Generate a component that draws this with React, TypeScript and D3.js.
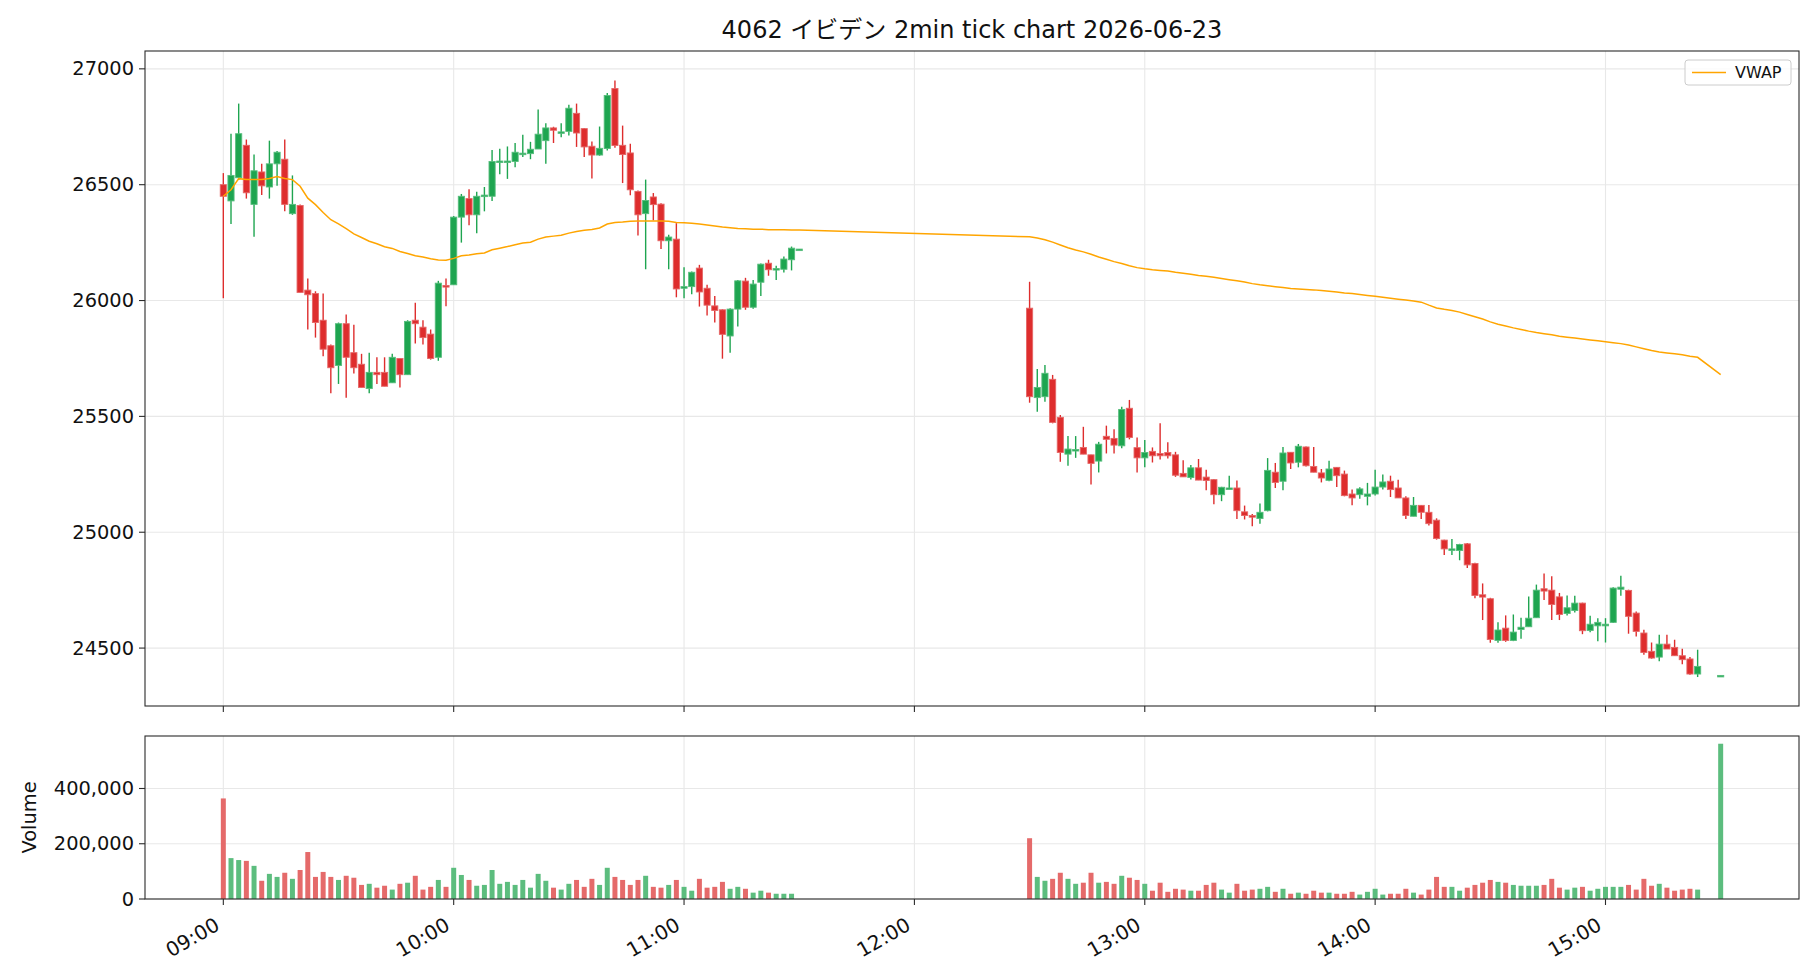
import * as d3 from "d3"

const FONT = "'DejaVu Sans', 'Noto Sans CJK JP', sans-serif"

// morning session, 2-minute bars
const amTimes = [
  "09:00", "09:02", "09:04", "09:06", "09:08", "09:10", "09:12", "09:14", "09:16", "09:18",
  "09:20", "09:22", "09:24", "09:26", "09:28", "09:30", "09:32", "09:34", "09:36", "09:38",
  "09:40", "09:42", "09:44", "09:46", "09:48", "09:50", "09:52", "09:54", "09:56", "09:58",
  "10:00", "10:02", "10:04", "10:06", "10:08", "10:10", "10:12", "10:14", "10:16", "10:18",
  "10:20", "10:22", "10:24", "10:26", "10:28", "10:30", "10:32", "10:34", "10:36", "10:38",
  "10:40", "10:42", "10:44", "10:46", "10:48", "10:50", "10:52", "10:54", "10:56", "10:58",
  "11:00", "11:02", "11:04", "11:06", "11:08", "11:10", "11:12", "11:14", "11:16", "11:18",
  "11:20", "11:22", "11:24", "11:26", "11:28", "11:30",
]
const amOpen = [
  26500, 26430, 26530, 26670, 26415, 26555, 26490, 26590, 26610, 26375,
  26410, 26045, 26030, 25915, 25805, 25720, 25900, 25775, 25725, 25620,
  25690, 25690, 25645, 25750, 25680, 25915, 25885, 25855, 25755, 26065,
  26068, 26360, 26440, 26370, 26450, 26450, 26598, 26598, 26600, 26632,
  26634, 26654, 26690, 26745, 26724, 26730, 26808, 26742, 26666, 26628,
  26656, 26915, 26670, 26637, 26471, 26375, 26447, 26416, 26258, 26265,
  26053, 26060, 26140, 26053, 25977, 25960, 25847, 25963, 26084, 25971,
  26079, 26161, 26133, 26135, 26176, 26220,
]
const amHigh = [
  26550, 26720, 26850, 26695, 26630, 26590, 26690, 26645, 26695, 26540,
  26415, 26095, 26040, 26030, 25810, 25905, 25940, 25895, 25770, 25775,
  25755, 25755, 25770, 25750, 25915, 25990, 25915, 25875, 26085, 26095,
  26365, 26460, 26480, 26470, 26490, 26650, 26655, 26665, 26680, 26715,
  26685, 26825, 26765, 26750, 26765, 26845, 26850, 26745, 26686, 26751,
  26896, 26950, 26755, 26677, 26475, 26522, 26464, 26420, 26284, 26334,
  26144, 26125, 26154, 26068, 26020, 25962, 25967, 26089, 26098, 26089,
  26160, 26176, 26150, 26190, 26233, 26222,
]
const amLow = [
  26010, 26330, 26520, 26440, 26275, 26455, 26440, 26495, 26385, 26370,
  26035, 25875, 25840, 25760, 25600, 25640, 25580, 25685, 25625, 25600,
  25640, 25630, 25645, 25625, 25680, 25815, 25810, 25745, 25740, 25975,
  26068, 26250, 26325, 26290, 26385, 26430, 26545, 26525, 26575, 26620,
  26610, 26654, 26590, 26680, 26705, 26712, 26663, 26620, 26527, 26625,
  26648, 26659, 26507, 26454, 26281, 26135, 26346, 26222, 26135, 26014,
  26010, 26027, 25974, 25935, 25905, 25749, 25775, 25888, 25960, 25965,
  26020, 26107, 26089, 26121, 26130, 26218,
]
const amClose = [
  26450, 26540, 26720, 26465, 26560, 26495, 26590, 26640, 26415, 26415,
  26035, 26025, 25905, 25790, 25710, 25900, 25755, 25710, 25625, 25690,
  25680, 25630, 25755, 25680, 25910, 25900, 25840, 25750, 26075, 26058,
  26360, 26450, 26370, 26450, 26455, 26600, 26602, 26602, 26640, 26636,
  26653, 26718, 26745, 26735, 26728, 26830, 26723, 26663, 26628, 26657,
  26885, 26669, 26630, 26478, 26370, 26432, 26414, 26258, 26274, 26050,
  26060, 26122, 26037, 25980, 25957, 25854, 25963, 26085, 25971, 26071,
  26157, 26133, 26138, 26179, 26226, 26222,
]
const amVolume = [
  364000, 148000, 141000, 138000, 120000, 66000, 91000, 80000, 95000, 73000,
  105000, 170000, 80000, 98000, 80000, 69000, 84000, 77000, 51000, 55000,
  41000, 48000, 34000, 55000, 59000, 84000, 34000, 44000, 69000, 44000,
  113000, 87000, 69000, 48000, 51000, 105000, 55000, 62000, 51000, 69000,
  41000, 91000, 66000, 41000, 34000, 55000, 69000, 44000, 73000, 51000,
  113000, 80000, 69000, 51000, 69000, 84000, 44000, 41000, 51000, 69000,
  44000, 30000, 73000, 41000, 44000, 62000, 37000, 44000, 37000, 23000,
  30000, 23000, 19000, 19000, 19000, 0,
]
const amVwap = [
  26450, 26478, 26526, 26522, 26522, 26522, 26527, 26535, 26527, 26522,
  26493, 26442, 26414, 26380, 26349, 26331, 26310, 26288, 26272, 26256,
  26245, 26232, 26225, 26212, 26203, 26193, 26188, 26180, 26175, 26174,
  26182, 26193, 26197, 26202, 26205, 26219, 26226, 26233, 26241, 26248,
  26252, 26265, 26274, 26278, 26282, 26291, 26298, 26303, 26307, 26313,
  26330, 26337, 26339, 26342, 26343, 26343, 26343, 26343, 26342, 26337,
  26336, 26334, 26330, 26326, 26322, 26317, 26314, 26311, 26310, 26308,
  26308, 26306, 26305, 26305, 26304, 26304,
]

// afternoon session (no trades 15:26-15:28, closing auction at 15:30)
const pmTimes = [
  "12:30", "12:32", "12:34", "12:36", "12:38", "12:40", "12:42", "12:44", "12:46", "12:48",
  "12:50", "12:52", "12:54", "12:56", "12:58", "13:00", "13:02", "13:04", "13:06", "13:08",
  "13:10", "13:12", "13:14", "13:16", "13:18", "13:20", "13:22", "13:24", "13:26", "13:28",
  "13:30", "13:32", "13:34", "13:36", "13:38", "13:40", "13:42", "13:44", "13:46", "13:48",
  "13:50", "13:52", "13:54", "13:56", "13:58", "14:00", "14:02", "14:04", "14:06", "14:08",
  "14:10", "14:12", "14:14", "14:16", "14:18", "14:20", "14:22", "14:24", "14:26", "14:28",
  "14:30", "14:32", "14:34", "14:36", "14:38", "14:40", "14:42", "14:44", "14:46", "14:48",
  "14:50", "14:52", "14:54", "14:56", "14:58", "15:00", "15:02", "15:04", "15:06", "15:08",
  "15:10", "15:12", "15:14", "15:16", "15:18", "15:20", "15:22", "15:24", "15:30",
]
const pmOpen = [
  25967, 25581, 25585, 25660, 25496, 25337, 25354, 25366, 25334, 25307,
  25414, 25405, 25373, 25535, 25365, 25321, 25349, 25340, 25344, 25334,
  25254, 25236, 25278, 25238, 25227, 25162, 25188, 25191, 25088, 25072,
  25059, 25093, 25259, 25220, 25345, 25302, 25368, 25284, 25256, 25224,
  25280, 25251, 25165, 25162, 25155, 25165, 25195, 25220, 25191, 25148,
  25069, 25116, 25086, 25052, 24966, 24925, 24921, 24950, 24865, 24730,
  24713, 24533, 24586, 24533, 24580, 24592, 24631, 24756, 24750, 24721,
  24649, 24662, 24694, 24576, 24596, 24596, 24611, 24754, 24749, 24651,
  24565, 24486, 24461, 24517, 24503, 24467, 24453, 24388, 24380,
]
const pmHigh = [
  26081, 25705, 25722, 25679, 25506, 25415, 25415, 25455, 25334, 25390,
  25460, 25445, 25542, 25571, 25409, 25398, 25366, 25470, 25388, 25347,
  25311, 25290, 25316, 25270, 25230, 25196, 25244, 25223, 25115, 25079,
  25124, 25320, 25299, 25368, 25345, 25381, 25370, 25368, 25273, 25309,
  25282, 25266, 25184, 25194, 25213, 25270, 25249, 25244, 25227, 25155,
  25152, 25118, 25118, 25060, 24968, 24971, 24950, 24954, 24868, 24779,
  24717, 24612, 24641, 24645, 24631, 24723, 24774, 24822, 24810, 24738,
  24727, 24726, 24696, 24639, 24629, 24629, 24762, 24812, 24752, 24658,
  24579, 24524, 24557, 24557, 24536, 24497, 24461, 24493, 24382,
]
const pmLow = [
  25559, 25520, 25563, 25470, 25304, 25287, 25321, 25337, 25206, 25258,
  25340, 25340, 25362, 25401, 25258, 25280, 25301, 25314, 25318, 25239,
  25239, 25228, 25225, 25181, 25121, 25134, 25187, 25057, 25055, 25026,
  25037, 25090, 25191, 25181, 25273, 25280, 25284, 25259, 25215, 25220,
  25195, 25155, 25116, 25144, 25116, 25159, 25184, 25152, 25148, 25057,
  25069, 25057, 25029, 24968, 24902, 24902, 24879, 24846, 24715, 24621,
  24523, 24523, 24527, 24530, 24540, 24592, 24631, 24707, 24621, 24621,
  24641, 24654, 24560, 24568, 24529, 24524, 24608, 24726, 24562, 24550,
  24471, 24454, 24443, 24496, 24467, 24430, 24385, 24375, 24380,
]
const pmClose = [
  25585, 25625, 25686, 25474, 25344, 25359, 25357, 25337, 25297, 25380,
  25401, 25376, 25530, 25409, 25321, 25344, 25330, 25330, 25330, 25246,
  25239, 25278, 25225, 25223, 25162, 25194, 25191, 25093, 25072, 25065,
  25086, 25267, 25215, 25342, 25299, 25371, 25287, 25259, 25234, 25273,
  25244, 25158, 25148, 25187, 25165, 25195, 25217, 25184, 25148, 25072,
  25116, 25086, 25037, 24973, 24928, 24928, 24947, 24859, 24727, 24720,
  24537, 24578, 24533, 24569, 24590, 24629, 24750, 24746, 24688, 24645,
  24674, 24694, 24575, 24603, 24611, 24603, 24759, 24763, 24637, 24572,
  24481, 24457, 24517, 24496, 24467, 24450, 24388, 24421, 24382,
]
const pmVolume = [
  220000, 80000, 66000, 73000, 95000, 73000, 55000, 59000, 95000, 59000,
  62000, 55000, 84000, 77000, 69000, 55000, 30000, 59000, 26000, 37000,
  34000, 30000, 30000, 51000, 59000, 34000, 23000, 55000, 30000, 34000,
  37000, 44000, 26000, 37000, 19000, 23000, 19000, 30000, 23000, 23000,
  19000, 19000, 26000, 16000, 26000, 37000, 16000, 19000, 19000, 37000,
  23000, 16000, 34000, 80000, 44000, 44000, 30000, 41000, 51000, 59000,
  69000, 62000, 59000, 51000, 48000, 48000, 48000, 51000, 73000, 41000,
  34000, 41000, 44000, 30000, 37000, 44000, 44000, 44000, 51000, 34000,
  73000, 48000, 55000, 41000, 30000, 34000, 37000, 34000, 562000,
]
const pmVwap = [
  26275, 26270, 26262, 26252, 26240, 26228, 26218, 26210, 26200, 26188,
  26178, 26168, 26160, 26150, 26142, 26137, 26133, 26130, 26127, 26122,
  26118, 26113, 26108, 26105, 26100, 26095, 26090, 26085, 26080, 26073,
  26068, 26064, 26060, 26056, 26052, 26050, 26048, 26046, 26043, 26040,
  26037, 26033, 26030, 26026, 26022, 26018, 26014, 26010, 26006, 26002,
  25998, 25993, 25980, 25968, 25962, 25957, 25950, 25940, 25930, 25920,
  25908, 25898, 25890, 25882, 25875, 25868, 25862, 25857, 25852, 25846,
  25842, 25838, 25834, 25830, 25826, 25822, 25818, 25814, 25808, 25800,
  25792, 25784, 25778, 25774, 25770, 25766, 25760, 25755, 25680,
]

const priceTicks = [24500, 25000, 25500, 26000, 26500, 27000]
const volumeTicks = [0, 200000, 400000]
const timeTicks = ["09:00", "10:00", "11:00", "12:00", "13:00", "14:00", "15:00"]

const UP = "#1ea550"
const UP_EDGE = "#56bd7c"
const DOWN = "#de2d2d"
const DOWN_EDGE = "#e56767"
const UP_VOL = "#5cbd7e"
const DOWN_VOL = "#e56a6a"
const GRID = "#e8e8e8"
const AXIS = "#2b2b2b"

const toMin = (t: string) => {
  const [h, m] = t.split(":").map(Number)
  return (h - 9) * 60 + m
}

interface Bar {
  t: number
  o: number
  h: number
  l: number
  c: number
  v: number
  vwap: number
}

const bars: Bar[] = [
  ...amTimes.map((t, i) => ({
    t: toMin(t), o: amOpen[i], h: amHigh[i], l: amLow[i], c: amClose[i], v: amVolume[i], vwap: amVwap[i],
  })),
  ...pmTimes.map((t, i) => ({
    t: toMin(t), o: pmOpen[i], h: pmHigh[i], l: pmLow[i], c: pmClose[i], v: pmVolume[i], vwap: pmVwap[i],
  })),
]

export default function App() {
  const W = 1820
  const H = 980
  const left = 145
  const right = 1799
  const pTop = 51
  const pBottom = 706
  const vTop = 736
  const vBottom = 899

  const x = d3.scaleLinear().domain([-20.4, 410.4]).range([left, right])
  const yP = d3.scaleLinear().domain([24250, 27077]).range([pBottom, pTop])
  const yV = d3.scaleLinear().domain([0, 590000]).range([vBottom, vTop])

  const bodyW = x(1.6) - x(0)
  const volW = x(1.3) - x(0)

  const vwapLine = d3
    .line<Bar>()
    .x((d) => x(d.t))
    .y((d) => yP(d.vwap))

  const tickSize = 19.4
  const xTickSize = 20

  return (
    <svg width={W} height={H} style={{ position: "absolute", left: 0, top: 0, background: "#fff" }} fontFamily={FONT}>
      <rect width={W} height={H} fill="#fff" />
      <text x={(left + right) / 2} y={38} textAnchor="middle" fontSize={24} fill="#111">
        4062 イビデン 2min tick chart 2026-06-23
      </text>

      {/* grid */}
      {timeTicks.map((t) => (
        <g key={t}>
          <line x1={x(toMin(t))} x2={x(toMin(t))} y1={pTop} y2={pBottom} stroke={GRID} strokeWidth={1.1} />
          <line x1={x(toMin(t))} x2={x(toMin(t))} y1={vTop} y2={vBottom} stroke={GRID} strokeWidth={1.1} />
        </g>
      ))}
      {priceTicks.map((p) => (
        <line key={p} x1={left} x2={right} y1={yP(p)} y2={yP(p)} stroke={GRID} strokeWidth={1.1} />
      ))}
      {volumeTicks.map((v) => (
        <line key={v} x1={left} x2={right} y1={yV(v)} y2={yV(v)} stroke={GRID} strokeWidth={1.1} />
      ))}

      {/* candles */}
      {bars.map((d, i) => {
        const up = d.c >= d.o
        const top = yP(Math.max(d.o, d.c))
        const bot = yP(Math.min(d.o, d.c))
        const h = Math.max(bot - top, 1.5)
        return (
          <g key={i}>
            <line x1={x(d.t)} x2={x(d.t)} y1={yP(d.h)} y2={yP(d.l)} stroke={up ? UP : DOWN} strokeWidth={1.4} />
            <rect
              x={x(d.t) - bodyW / 2}
              y={top}
              width={bodyW}
              height={h}
              fill={up ? UP : DOWN}
              stroke={up ? UP_EDGE : DOWN_EDGE}
              strokeWidth={0.9}
            />
          </g>
        )
      })}

      <path d={vwapLine(bars) ?? ""} fill="none" stroke="#FFA500" strokeWidth={1.5} />

      {/* volume */}
      {bars.map((d, i) =>
        d.v > 0 ? (
          <rect
            key={i}
            x={x(d.t) - volW / 2}
            y={yV(d.v)}
            width={volW}
            height={vBottom - yV(d.v)}
            fill={d.c >= d.o ? UP_VOL : DOWN_VOL}
          />
        ) : null,
      )}

      {/* legend */}
      <rect x={1685} y={60} width={106} height={25} rx={3} fill="#fff" fillOpacity={0.8} stroke="#cccccc" strokeWidth={1} />
      <line x1={1692} x2={1726} y1={72.5} y2={72.5} stroke="#FFA500" strokeWidth={1.5} />
      <text x={1735} y={72.5} dominantBaseline="central" fontSize={16} fill="#111">
        VWAP
      </text>

      {/* axes frames */}
      <rect x={left} y={pTop} width={right - left} height={pBottom - pTop} fill="none" stroke={AXIS} strokeWidth={1.1} />
      <rect x={left} y={vTop} width={right - left} height={vBottom - vTop} fill="none" stroke={AXIS} strokeWidth={1.1} />

      {/* price y axis */}
      {priceTicks.map((p) => (
        <g key={p}>
          <line x1={left - 6} x2={left} y1={yP(p)} y2={yP(p)} stroke={AXIS} strokeWidth={1.1} />
          <text x={left - 11} y={yP(p)} textAnchor="end" dominantBaseline="central" fontSize={tickSize} fill="#111">
            {p}
          </text>
        </g>
      ))}

      {/* volume y axis */}
      {volumeTicks.map((v) => (
        <g key={v}>
          <line x1={left - 6} x2={left} y1={yV(v)} y2={yV(v)} stroke={AXIS} strokeWidth={1.1} />
          <text x={left - 11} y={yV(v)} textAnchor="end" dominantBaseline="central" fontSize={tickSize} fill="#111">
            {d3.format(",")(v)}
          </text>
        </g>
      ))}
      <text
        transform={`translate(29,${(vTop + vBottom) / 2}) rotate(-90)`}
        textAnchor="middle"
        dominantBaseline="central"
        fontSize={tickSize}
        fill="#111"
      >
        Volume
      </text>

      {/* x ticks, labels rotated 30deg and right-aligned like autofmt_xdate */}
      {timeTicks.map((t) => (
        <g key={t}>
          <line x1={x(toMin(t))} x2={x(toMin(t))} y1={pBottom} y2={pBottom + 6} stroke={AXIS} strokeWidth={1.1} />
          <line x1={x(toMin(t))} x2={x(toMin(t))} y1={vBottom} y2={vBottom + 6} stroke={AXIS} strokeWidth={1.1} />
          <text
            transform={`translate(${x(toMin(t)) - 2.4},${vBottom + 30}) rotate(-30)`}
            textAnchor="end"
            fontSize={xTickSize}
            fill="#111"
          >
            {t}
          </text>
        </g>
      ))}
    </svg>
  )
}
